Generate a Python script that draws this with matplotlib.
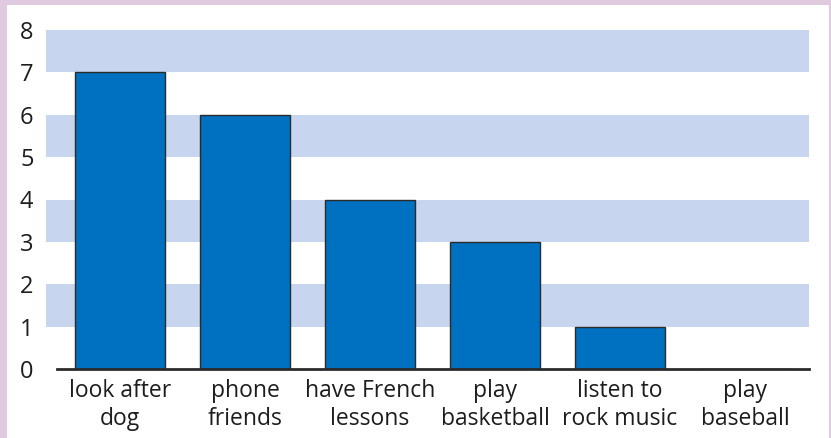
import matplotlib.pyplot as plt
from matplotlib.patches import Rectangle

# chart data
categories = ["look after\ndog", "phone\nfriends", "have French\nlessons",
              "play\nbasketball", "listen to\nrock music", "play\nbaseball"]
values = [7, 6, 4, 3, 1, 0]
y_ticks = [0, 1, 2, 3, 4, 5, 6, 7, 8]

W, H = 831, 438
plt.rcParams['font.family'] = ['Open Sans', 'DejaVu Sans']

fig = plt.figure(figsize=(W / 100, H / 100), dpi=100)
fig.patch.set_facecolor('#dfcae0')
# white panel inside the lavender frame
fig.patches.append(Rectangle((7 / W, 0), (829 - 7) / W, (H - 5) / H,
                             transform=fig.transFigure, facecolor='white',
                             edgecolor='none', zorder=-5))

ax = fig.add_axes([46 / W, 1 - 369 / H, (809 - 46) / W, (369 - 30) / H])
ax.set_facecolor('none')

x = list(range(len(categories)))
# alternating bands
for lo in [1, 3, 5, 7]:
    ax.axhspan(lo, lo + 1, color='#c8d5ee', zorder=0, lw=0)

ax.bar(x, values, width=0.72, color='#0070c0', edgecolor='#2b2b2b',
       linewidth=1.0, zorder=2)

ax.set_xlim(-0.592, 5.512)
ax.set_ylim(0, 8)
ax.axhline(0, xmin=(0.088) / 6.104, xmax=1, color='#2b2b2b', lw=2, zorder=3,
           clip_on=False)

for s in ax.spines.values():
    s.set_visible(False)

ax.set_yticks(y_ticks)
ax.set_yticklabels([str(v) for v in y_ticks], fontsize=17, color='#1e1c1d')
ax.set_xticks(x)
ax.set_xticklabels(categories, fontsize=16.5, color='#1e1c1d',
                   linespacing=1.22)
ax.tick_params(axis='both', length=0)
ax.tick_params(axis='y', pad=9)
ax.tick_params(axis='x', pad=7)

fig.savefig('out.png', dpi=100, facecolor=fig.get_facecolor())
